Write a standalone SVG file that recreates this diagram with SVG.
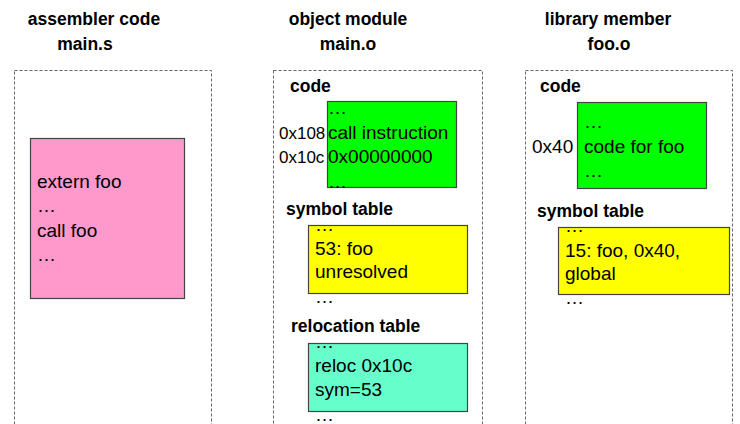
<svg xmlns="http://www.w3.org/2000/svg" width="740" height="424" viewBox="0 0 740 424">
  <style>
    .title { font-family: "Liberation Sans", Arial, sans-serif; font-size: 17.5px; font-weight: bold; fill: #000; text-anchor: middle; }
    .head { font-family: "Liberation Sans", Arial, sans-serif; font-size: 17.5px; font-weight: bold; fill: #000; }
    .txt { font-family: "Liberation Sans", Arial, sans-serif; font-size: 19px; fill: #000; }
    .frame { fill: none; stroke: #666; stroke-width: 1; stroke-dasharray: 3 2; }
    .box { stroke: #444; stroke-width: 1.2; }
    .pink { fill: #FF99CC; }
    .green { fill: #00FF00; }
    .yellow { fill: #FFFF00; }
    .teal { fill: #66FFCC; }
  </style>
  <rect width="740" height="424" fill="#fff"/>

  <!-- assembler source -->
  <g id="asm-file">
    <text class="title" x="94" y="25">assembler code</text>
    <text class="title" x="85" y="50">main.s</text>
    <rect class="frame" x="14.5" y="70.5" width="197" height="370"/>
    <g id="asm-source">
      <rect class="box pink" x="30.5" y="138.5" width="154" height="160"/>
      <text class="txt" x="37" y="188">extern foo</text>
      <text class="txt" x="37" y="212">…</text>
      <text class="txt" x="37" y="237">call foo</text>
      <text class="txt" x="37" y="261">…</text>
    </g>
  </g>

  <!-- object module main.o -->
  <g id="object-module">
    <text class="title" x="348" y="25">object module</text>
    <text class="title" x="348" y="50">main.o</text>
    <rect class="frame" x="273.5" y="70.5" width="209" height="370"/>
    <g id="obj-code">
      <text class="head" x="290" y="92">code</text>
      <rect class="box green" x="327.5" y="101.5" width="129" height="86"/>
      <text class="txt" x="328" y="114">…</text>
      <text class="txt" x="328" y="139">call instruction</text>
      <text class="txt" x="328" y="163">0x00000000</text>
      <text class="txt" x="328" y="188">…</text>
      <text class="txt" x="279" y="139" style="font-size:17px">0x108</text>
      <text class="txt" x="279" y="163" style="font-size:17px">0x10c</text>
    </g>
    <g id="obj-symtab">
      <text class="head" x="286" y="215">symbol table</text>
      <rect class="box yellow" x="308.5" y="225.5" width="159" height="68"/>
      <text class="txt" x="315" y="231">…</text>
      <text class="txt" x="315" y="255">53: foo</text>
      <text class="txt" x="315" y="278">unresolved</text>
      <text class="txt" x="315" y="303">…</text>
    </g>
    <g id="obj-reloc">
      <text class="head" x="291" y="332">relocation table</text>
      <rect class="box teal" x="308.5" y="343.5" width="159" height="68"/>
      <text class="txt" x="315" y="348">…</text>
      <text class="txt" x="315" y="372">reloc 0x10c</text>
      <text class="txt" x="315" y="396">sym=53</text>
      <text class="txt" x="315" y="421">…</text>
    </g>
  </g>

  <!-- library member foo.o -->
  <g id="library-member">
    <text class="title" x="608" y="25">library member</text>
    <text class="title" x="609" y="50">foo.o</text>
    <rect class="frame" x="525.5" y="70.5" width="207" height="370"/>
    <g id="lib-code">
      <text class="head" x="540" y="92">code</text>
      <rect class="box green" x="577.5" y="102.5" width="129" height="86"/>
      <text class="txt" x="584" y="128">…</text>
      <text class="txt" x="584" y="153">code for foo</text>
      <text class="txt" x="584" y="177">…</text>
      <text class="txt" x="532" y="153">0x40</text>
    </g>
    <g id="lib-symtab">
      <text class="head" x="537" y="217">symbol table</text>
      <rect class="box yellow" x="558.5" y="227.5" width="171" height="67"/>
      <text class="txt" x="565" y="232">…</text>
      <text class="txt" x="565" y="257">15: foo, 0x40,</text>
      <text class="txt" x="565" y="280">global</text>
      <text class="txt" x="565" y="304">…</text>
    </g>
  </g>

  <g id="connectors"/>
</svg>
